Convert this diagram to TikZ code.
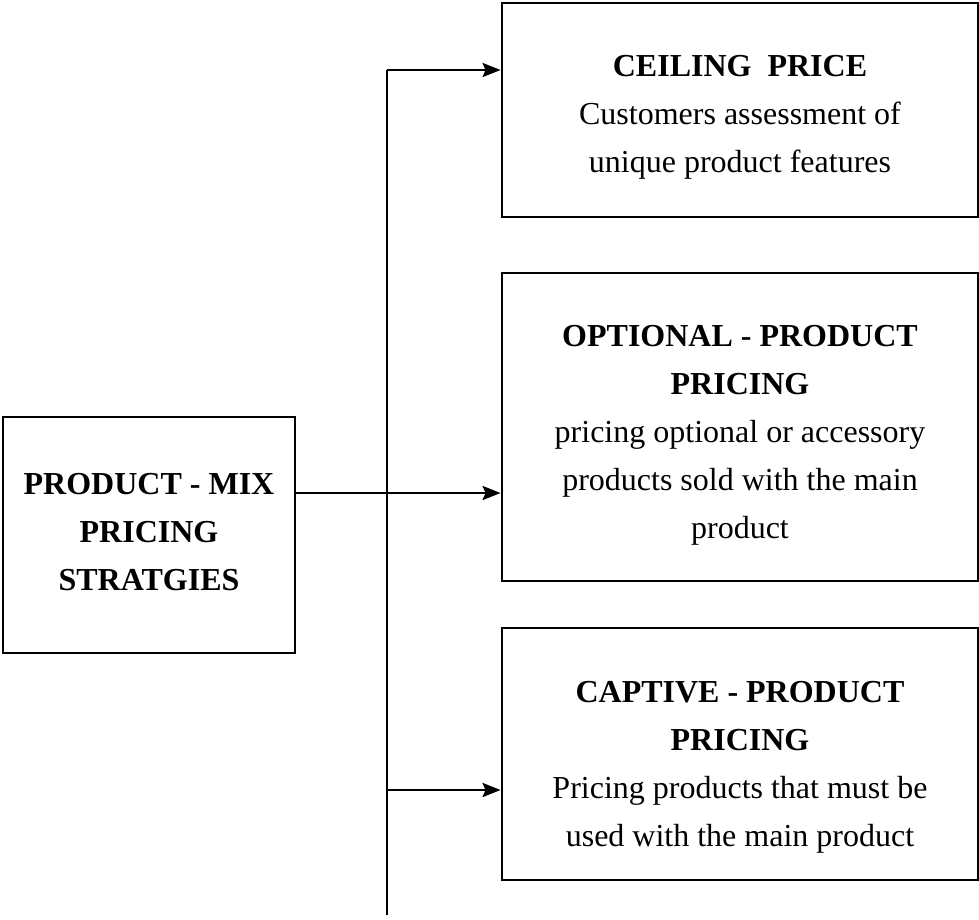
\documentclass[tikz,border=0pt]{standalone}
\usepackage{fontspec}
\setmainfont{Liberation Serif}
\usetikzlibrary{arrows.meta}
\begin{document}
\begin{tikzpicture}[x=1pt,y=-1pt,
  box/.style={draw, line width=2.8pt, inner sep=0pt},
  txt/.style={inner sep=0pt, align=center, font=\fontsize{32}{48}\selectfont},
  link/.style={line width=2.8pt, -{Stealth[length=18pt,width=14pt,inset=3pt]}},
  trunk/.style={line width=2.8pt}]
\useasboundingbox (0,0) rectangle (979,919);
% outlines
\node[box, minimum width=292pt, minimum height=236pt] (mix)  at (149,535) {};
\node[box, minimum width=476pt, minimum height=214pt] (ceil) at (740,110) {};
\node[box, minimum width=476pt, minimum height=308pt] (opt)  at (740,427) {};
\node[box, minimum width=476pt, minimum height=252pt] (capt) at (740,754) {};
% captions
\node[txt] (mixT) at ([yshift=3pt]mix.center)
  {\textbf{PRODUCT - MIX}\\\textbf{PRICING}\\\textbf{STRATGIES}};
\node[txt] (ceilT) at ([yshift=-7pt]ceil.center)
  {\textbf{CEILING\ \ PRICE}\\Customers assessment of\\unique product features};
\node[txt] (optT) at ([yshift=-8pt]opt.center)
  {\textbf{OPTIONAL - PRODUCT}\\\textbf{PRICING}\\pricing optional or accessory\\products sold with the main\\product};
\node[txt] (captT) at ([yshift=-13pt]capt.center)
  {\textbf{CAPTIVE - PRODUCT}\\\textbf{PRICING}\\Pricing products that must be\\used with the main product};
% distribution bus
\coordinate (top) at (387,70);
\coordinate (bot) at (387,915);
\coordinate (ct) at (387,790);
\draw[trunk] (top) -- (bot);
\draw[link] (top) -- (top -| ceil.west);
\draw[link] (mix.east |- 0,493) -- (opt.west |- 0,493);
\draw[link] (ct) -- (ct -| capt.west);
\end{tikzpicture}
\end{document}
